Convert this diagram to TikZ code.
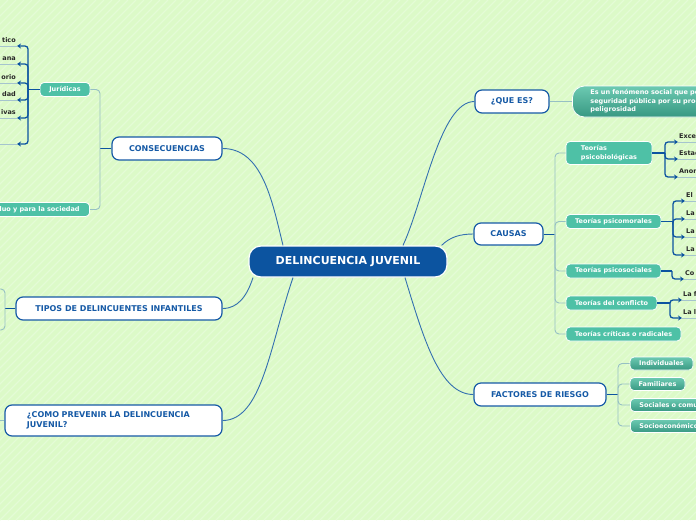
\documentclass[tikz,border=0pt]{standalone}
\usepackage{fontspec}
\setmainfont{DejaVu Sans}
\usetikzlibrary{arrows.meta}
\definecolor{bgc}{RGB}{220,250,200}
\definecolor{stripec}{RGB}{228,252,214}
\definecolor{dblue}{RGB}{12,84,160}
\definecolor{mblue}{RGB}{22,90,166}
\definecolor{lblue}{RGB}{52,112,176}
\definecolor{pale}{RGB}{150,192,196}
\definecolor{teal1}{RGB}{78,193,166}
\definecolor{tealtop}{RGB}{108,202,178}
\definecolor{tealbot}{RGB}{56,152,130}
\definecolor{leafc}{RGB}{40,40,40}
\definecolor{uln}{RGB}{165,196,206}
\begin{document}
\begin{tikzpicture}[x=1pt, y=-1pt, >={Stealth[length=4pt,width=5pt]},
  main/.style={draw=mblue, line width=1.2pt, fill=white, rounded corners=7pt, text=mblue, inner sep=2pt,
    font=\bfseries\fontsize{8}{10}\selectfont},
  sub/.style={draw=white, line width=0.8pt, fill=teal1, rounded corners=4pt, text=white, inner sep=2pt,
    font=\bfseries\fontsize{6.5}{8}\selectfont},
  subg/.style={sub, top color=tealtop, bottom color=tealbot},
  leaf/.style={text=leafc, inner xsep=1pt, inner ysep=3pt, font=\bfseries\fontsize{6.5}{8}\selectfont},
  link/.style={draw=lblue, line width=0.9pt},
  stub/.style={draw=dblue, line width=1pt},
  brk/.style={draw=pale, line width=0.9pt, rounded corners=4pt},
  arr/.style={draw=dblue, line width=1.3pt, rounded corners=3pt, ->},
  uline/.style={draw=uln, line width=0.8pt}]
\useasboundingbox (0,0) rectangle (696,520);
\fill[bgc] (0,0) rectangle (696,520);
\begin{scope}
\clip (0,0) rectangle (696,520);
\foreach \i in {-520,-512,...,696} \draw[stripec, line width=1.2pt] (\i,520) -- ++(520,-520);
\end{scope}

\node[draw=white, line width=1.2pt, fill=dblue, rounded corners=12pt, text=white, minimum width=198pt, minimum height=31pt,
  font=\bfseries\fontsize{11}{13}\selectfont] (dj) at (348,261.5) {DELINCUENCIA JUVENIL};

\node[main, minimum width=74pt, minimum height=23pt] (que) at (512,101.5) {¿QUE ES?};
\node[main, minimum width=69pt, minimum height=22pt] (causas) at (508.5,234) {CAUSAS};
\node[main, minimum width=132pt, minimum height=23pt] (fact) at (540,394.5) {FACTORES DE RIESGO};
\node[main, minimum width=110pt, minimum height=23pt] (cons) at (167,148.5) {CONSECUENCIAS};
\node[main, minimum width=206pt, minimum height=23pt] (tipos) at (119,308.5) {TIPOS DE DELINCUENTES INFANTILES};
\node[main, minimum height=31pt, inner xsep=22pt, text width=173pt, align=left] (como) at (113.5,420.5)
  {¿COMO PREVENIR LA DELINCUENCIA\\JUVENIL?};

\draw[link] ([xshift=-65pt]dj.north) .. controls (272,200) and (262,148.5) .. (cons.east);
\draw[link] ([xshift=55pt]dj.north) .. controls (424,200) and (440,101.5) .. (que.west);
\draw[link] ([xshift=-6pt]dj.north east) .. controls (450,237) and (460,234) .. (causas.west);
\draw[link] ([xshift=57pt]dj.south) .. controls (424,340) and (440,394.5) .. (fact.west);
\draw[link] ([xshift=-95pt]dj.south) .. controls (247,296) and (238,308.5) .. (tipos.east);
\draw[link] ([xshift=-55pt]dj.south) .. controls (270,345) and (262,420.5) .. (como.east);

\node[subg, anchor=west, rounded corners=12pt, minimum height=31pt, inner xsep=18pt, text width=200pt, align=left,
  font=\bfseries\fontsize{6.5}{8.5}\selectfont] (esun) at (572,101.5)
  {Es un fenómeno social que po\\seguridad pública por su prog\\peligrosidad};
\draw[brk] (que.east) -- (esun.west);

\node[sub, minimum width=86pt, minimum height=23pt, align=left, font=\bfseries\fontsize{6.5}{9}\selectfont] (tpb) at (609,153)
  {Teorías\\psicobiológicas};
\node[sub, minimum width=95pt, minimum height=14pt] (tpm) at (613.5,221.5) {Teorías psicomorales};
\node[sub, minimum width=95pt, minimum height=14pt] (tps) at (613.5,271) {Teorías psicosociales};
\node[sub, minimum width=91pt, minimum height=14pt] (tdc) at (611.5,303) {Teorías del conflicto};
\node[sub, minimum width=115pt, minimum height=14pt] (tcr) at (623.5,334) {Teorías críticas o radicales};
\coordinate (cb) at (555,234);
\draw[stub] (causas.east) -- (cb);
\foreach \n in {tpb,tpm,tps,tdc,tcr} \draw[brk] (cb) |- (\n.west);

\node[subg, minimum width=63pt, minimum height=13pt] (ind) at (661.5,363.5) {Individuales};
\node[subg, minimum width=55pt, minimum height=13pt] (fam) at (657.5,384) {Familiares};
\node[subg, anchor=west, minimum height=13pt, inner xsep=9pt, text width=100pt, align=left] (soc) at (630,405) {Sociales o comu};
\node[subg, anchor=west, minimum height=13pt, inner xsep=9pt, text width=100pt, align=left] (sec) at (630,426) {Socioeconómico};
\coordinate (fb) at (618,394.5);
\draw[stub] (fact.east) -- (fb);
\foreach \n in {ind,fam,soc,sec} \draw[brk] (fb) |- (\n.west);

\node[sub, minimum width=50pt, minimum height=14pt] (jur) at (65,89.5) {Jurídicas};
\node[sub, anchor=east, minimum height=14pt, inner xsep=10pt, text width=110pt, align=right] (pil) at (90,209.5)
  {duo y para la sociedad};
\coordinate (kb) at (100,148.5);
\draw[stub] (cons.west) -- (kb);
\draw[brk] (kb) |- (jur.east);
\draw[brk] (kb) |- (pil.east);

\coordinate (tb) at (5,308.5);
\coordinate (t1) at (-10,289);
\coordinate (t2) at (-10,330);
\draw[stub] (tipos.west) -- (tb);
\draw[brk] (tb) |- (t1);
\draw[brk] (tb) |- (t2);
\coordinate (cpb) at (-5,420.5);
\draw[brk] (como.west) -- (cpb);

\coordinate (pb) at (665,153);
\draw[stub, line width=1.3pt] (tpb.east) -- (pb);
\foreach \n/\y/\t in {b1/142/Exces, b2/159/Estad, b3/177/Anom} {
  \node[leaf, anchor=south west] (\n) at (678,\y) {\t};
  \draw[uline] (\n.south west) -- ++(25,0);
  \draw[arr] (pb) |- (\n.south west);
}
\coordinate (mb) at (673,221.5);
\draw[stub, line width=1.3pt] (tpm.east) -- (mb);
\foreach \n/\y/\t in {m1/201/El, m2/219/La, m3/237/La, m4/255/La} {
  \node[leaf, anchor=south west] (\n) at (685,\y) {\t};
  \draw[uline] (\n.south west) -- ++(20,0);
  \draw[arr] (mb) |- (\n.south west);
}
\coordinate (sb) at (672,271);
\node[leaf, anchor=south west] (s1) at (684,279) {Co};
\draw[uline] (s1.south west) -- ++(20,0);
\draw[stub, line width=1.3pt] (tps.east) -- (sb);
\draw[arr] (sb) |- (s1.south west);
\coordinate (cfb) at (670,303);
\draw[stub, line width=1.3pt] (tdc.east) -- (cfb);
\foreach \n/\y/\t in {c1/300/La f, c2/318/La l} {
  \node[leaf, anchor=south west] (\n) at (682,\y) {\t};
  \draw[uline] (\n.south west) -- ++(20,0);
  \draw[arr] (cfb) |- (\n.south west);
}

\coordinate (jb) at (28,89.5);
\draw[stub, line width=1.3pt] (jur.west) -- (jb);
\foreach \n/\y/\t in {j1/46/tico, j2/64/ana, j3/83/orio, j4/100/dad, j5/118/ivas} {
  \node[leaf, anchor=south east] (\n) at (17,\y) {\t};
  \draw[uline] (\n.south east) -- ++(-20,0);
  \draw[arr] (jb) |- (\n.south east);
}
\coordinate (j6) at (17,144);
\draw[uline] (j6) -- ++(-20,0);
\draw[arr] (jb) |- (j6);
\end{tikzpicture}
\end{document}
